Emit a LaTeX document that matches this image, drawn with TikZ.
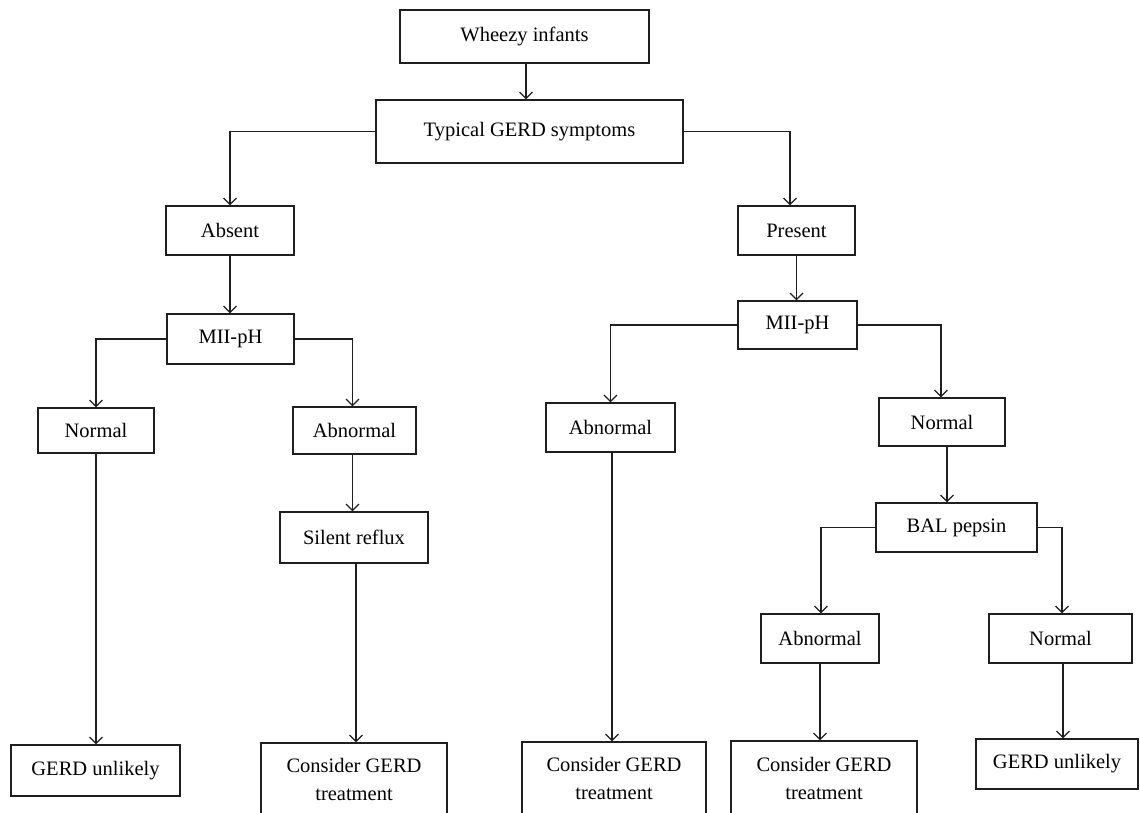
\documentclass[tikz,border=0pt]{standalone}
\usepackage{fontspec}
\setmainfont{Liberation Serif}
\usetikzlibrary{arrows.meta}
\tikzset{
  bx/.style 2 args={draw=black!88, line width=1.2pt, inner sep=0pt, align=center,
    font=\fontsize{20.5}{28}\selectfont, minimum width=#1pt, minimum height=#2pt},
  arr/.style={draw=black!88, line width=1.2pt, -{Straight Barb[length=6.5pt,width=13pt,line width=1.2pt]}},
  ln/.style={draw=black!88, line width=1.2pt}
}
\begin{document}
\begin{tikzpicture}[x=1pt,y=-1pt]
\useasboundingbox[fill=white] (0,0) rectangle (1140,812);
% nodes
\node[bx={249}{53}] (wheezy) at (524.5,36.5) {Wheezy infants};
\node[bx={307}{63}] (typical) at (529.5,131.5) {Typical GERD symptoms};
\node[bx={128}{49}] (absent) at (230,230.5) {Absent};
\node[bx={117}{49}] (present) at (796.5,230.5) {Present};
\node[bx={127}{50}] (miiL) at (230.5,339) {MII-pH};
\node[bx={119}{48}] (miiR) at (797.5,325) {MII-pH};
\node[bx={116}{45}] (normL) at (96,430.5) {Normal};
\node[bx={123}{47}] (abnL) at (354.5,430.5) {Abnormal};
\node[bx={148}{51}] (silent) at (354,537.5) {Silent reflux};
\node[bx={129}{49}] (abnM) at (610.5,427.5) {Abnormal};
\node[bx={126}{48}] (normR) at (942,422) {Normal};
\node[bx={161}{49}] (bal) at (956.5,527.5) {BAL pepsin};
\node[bx={118}{49}] (abnR) at (820,638.5) {Abnormal};
\node[bx={143}{49}] (normFR) at (1060.5,638.5) {Normal};
\node[bx={169}{51}] (unlikL) at (95.5,770.5) {GERD unlikely};
\node[bx={186}{72}] (consL) at (354,779) {Consider GERD\\treatment};
\node[bx={184}{73}] (consM) at (614,778.5) {Consider GERD\\treatment};
\node[bx={186}{74}] (consR) at (824,778) {Consider GERD\\treatment};
\node[bx={162}{50}] (unlikR) at (1057,764) {GERD unlikely};
% connectors
\draw[arr] ([xshift=1.5pt]wheezy.south) -- ([xshift=1.5pt]wheezy.south |- typical.north);
\draw[arr] (typical.west) -| (absent.north);
\coordinate (tpR) at ([xshift=-6.5pt]present.north);
\draw[arr] (typical.east) -- (typical.east -| tpR) -- (tpR);
\draw[arr] (absent.south) -- (absent.south |- miiL.north);
\draw[arr] (present.south) -- (present.south |- miiR.north);
\draw[arr] (miiL.west) -| (normL.north);
\draw[arr] (miiL.east) -| ([xshift=-2pt]abnL.north);
\draw[arr] ([xshift=-2pt]abnL.south) -- ([xshift=-2pt]abnL.south |- silent.north);
\draw[arr] ([xshift=2pt]silent.south) -- ([xshift=2pt]silent.south |- consL.north);
\draw[arr] (normL.south) -- (normL.south |- unlikL.north);
\draw[arr] (miiR.west) -| (abnM.north);
\draw[arr] (miiR.east) -| ([xshift=-1pt]normR.north);
\draw[arr] ([xshift=5pt]normR.south) -- ([xshift=5pt]normR.south |- bal.north);
\draw[arr] (bal.west) -| ([xshift=1pt]abnR.north);
\draw[arr] (bal.east) -| ([xshift=1.5pt]normFR.north);
\draw[arr] ([xshift=1.5pt]abnM.south) -- ([xshift=1.5pt]abnM.south |- consM.north);
\draw[arr] (abnR.south) -- (abnR.south |- consR.north);
\draw[arr] ([xshift=2.5pt]normFR.south) -- ([xshift=2.5pt]normFR.south |- unlikR.north);
\end{tikzpicture}
\end{document}
